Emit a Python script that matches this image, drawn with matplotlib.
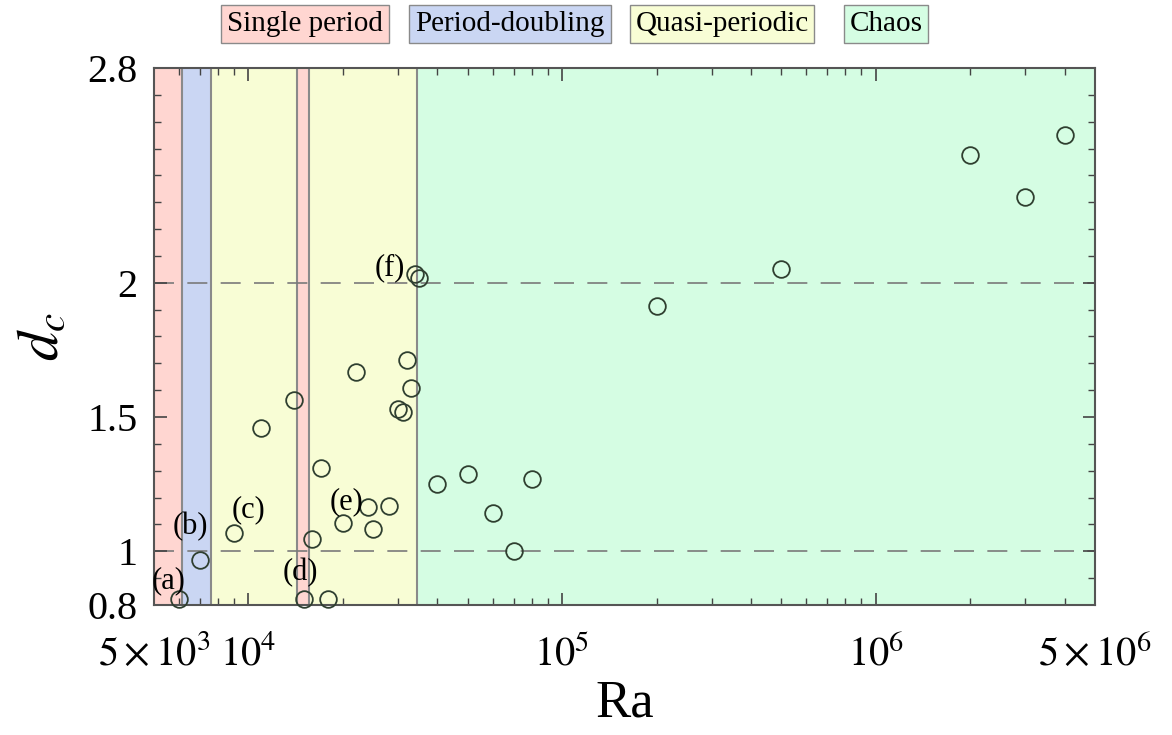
import matplotlib.pyplot as plt
from matplotlib.ticker import MultipleLocator, LogLocator, NullFormatter

plt.rcParams['font.family'] = ['Liberation Serif', 'DejaVu Serif']
plt.rcParams['mathtext.fontset'] = 'stix'

# regime boundaries along Ra
bounds = [5e3, 6.15e3, 7.6e3, 1.43e4, 1.56e4, 3.44e4, 5e6]
regime = ['single', 'doubling', 'quasi', 'single', 'quasi', 'chaos']
colors = {'single': '#ffd6d1', 'doubling': '#cad6f3',
          'quasi': '#f8fdd5', 'chaos': '#d5fde3'}
legend_names = ['Single period', 'Period-doubling', 'Quasi-periodic', 'Chaos']
legend_keys = ['single', 'doubling', 'quasi', 'chaos']

# data points
Ra = [6000, 7000, 9000, 11000, 14000, 15000, 16000, 17000, 18000, 20000,
      22000, 24000, 25000, 28000, 30000, 31000, 32000, 33000, 34000, 35000,
      40000, 50000, 60000, 70000, 80000, 2e5, 5e5, 2e6, 3e6, 4e6]
dc = [0.821, 0.968, 1.068, 1.46, 1.563, 0.821, 1.047, 1.312, 0.821, 1.107,
      1.667, 1.164, 1.082, 1.169, 1.529, 1.518, 1.713, 1.609, 2.034, 2.018,
      1.25, 1.286, 1.141, 1.001, 1.268, 1.915, 2.052, 2.475, 2.32, 2.551]

# case labels
lab_text = ['(a)', '(b)', '(c)', '(d)', '(e)', '(f)']
lab_x = [5570, 6545, 10000, 14630, 20470, 28250]
lab_y = [0.89, 1.091, 1.154, 0.919, 1.184, 2.056]

fig = plt.figure(figsize=(11.72, 7.35), dpi=100)
ax = fig.add_axes([0.1314, 0.1769, 0.8029, 0.7306])

for i in range(len(regime)):
    ax.axvspan(bounds[i], bounds[i + 1], color=colors[regime[i]], lw=0, zorder=0)
for b in bounds[1:-1]:
    ax.axvline(b, color='#8a8a8a', lw=1.5, zorder=1)

ax.axhline(1, color='#7a7a7a', lw=1.2, ls=(0, (12, 8)), zorder=1)
ax.axhline(2, color='#7a7a7a', lw=1.2, ls=(0, (12, 8)), zorder=1)

ax.plot(Ra, dc, 'o', ms=12, mfc='none', mec='#2f3f30', mew=1.3, zorder=3,
        clip_on=False)

for t, x, y in zip(lab_text, lab_x, lab_y):
    ax.text(x, y, t, fontsize=22, ha='center', va='center', zorder=4)

ax.set_xscale('log')
ax.set_xlim(5e3, 5e6)
ax.set_ylim(0.8, 2.8)
ax.set_xticks([5e3, 1e4, 1e5, 1e6, 5e6])
ax.set_xticklabels([r'$5\times10^{3}$', r'$10^{4}$', r'$10^{5}$',
                    r'$10^{6}$', r'$5\times10^{6}$'])
ax.xaxis.set_minor_locator(LogLocator(base=10, subs=range(2, 10)))
ax.xaxis.set_minor_formatter(NullFormatter())
ax.set_yticks([0.8, 1, 1.5, 2, 2.8])
ax.set_yticklabels(['0.8', '1', '1.5', '2', '2.8'])
ax.yaxis.set_minor_locator(MultipleLocator(0.1))

ax.tick_params(which='both', direction='in', top=True, right=True,
               color='#444444')
ax.tick_params(which='major', length=9, width=1.2, labelsize=29)
ax.tick_params(axis='y', which='major', pad=12)
ax.tick_params(axis='x', which='major', pad=22)
ax.tick_params(which='minor', length=5, width=1.0)
for s in ax.spines.values():
    s.set_color('#555555')
    s.set_linewidth(1.5)

ax.set_xlabel('Ra', fontsize=38, labelpad=4)
ax.set_ylabel(r'$d_c$', fontsize=42, labelpad=12)

# legend boxes along the top
leg_x = [305, 510, 722, 886]
for name, key, px in zip(legend_names, legend_keys, leg_x):
    fig.text(px / 1172, 1 - 24 / 735, name, fontsize=21, ha='center', va='center',
             bbox=dict(boxstyle='square,pad=0.2', fc=colors[key], ec='#8a8a8a', lw=1))

fig.savefig('out.png', dpi=100)
